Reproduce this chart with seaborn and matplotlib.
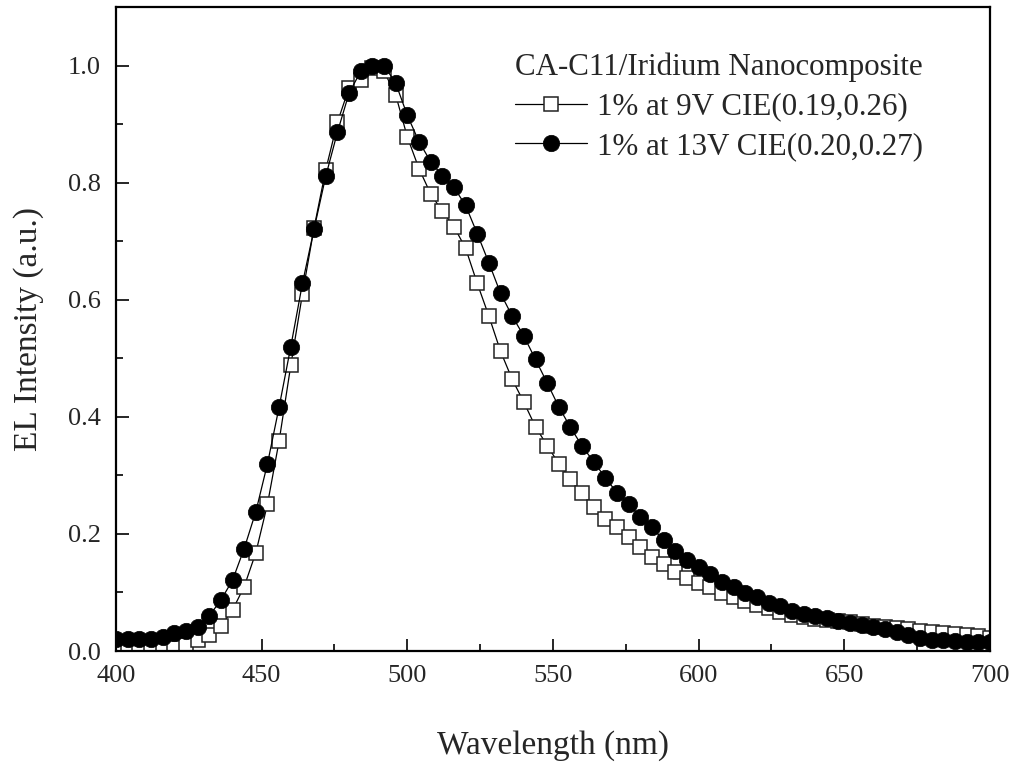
import numpy as np
import pandas as pd
import matplotlib
matplotlib.use("Agg")
import matplotlib.pyplot as plt
from matplotlib.ticker import MultipleLocator, FormatStrFormatter
import seaborn as sns

# Emission wavelength grid (nm), one sample every 4 nm
wavelength = list(range(400, 701, 4))

# Normalised EL spectrum, 1% device driven at 9 V
el_9v = [0.002, 0.002, 0.002, 0.002, 0.003, 0.006, 0.010, 0.019,
         0.027, 0.043, 0.070, 0.110, 0.168, 0.251, 0.359, 0.488,
         0.610, 0.723, 0.822, 0.903, 0.962, 0.976, 0.995, 0.990,
         0.950, 0.878, 0.824, 0.781, 0.751, 0.725, 0.688, 0.628,
         0.572, 0.512, 0.464, 0.425, 0.383, 0.351, 0.320, 0.294,
         0.270, 0.246, 0.226, 0.211, 0.194, 0.178, 0.161, 0.148,
         0.135, 0.124, 0.116, 0.109, 0.099, 0.093, 0.086, 0.078,
         0.073, 0.067, 0.061, 0.058, 0.055, 0.053, 0.051, 0.049,
         0.046, 0.043, 0.041, 0.039, 0.037, 0.035, 0.033, 0.031,
         0.029, 0.027, 0.025, 0.023]

# Normalised EL spectrum, 1% device driven at 13 V
el_13v = [0.020, 0.020, 0.020, 0.020, 0.024, 0.030, 0.035, 0.041,
          0.060, 0.087, 0.121, 0.175, 0.238, 0.320, 0.417, 0.520,
          0.628, 0.721, 0.811, 0.886, 0.953, 0.990, 1.000, 1.000,
          0.970, 0.915, 0.870, 0.836, 0.812, 0.792, 0.761, 0.713,
          0.663, 0.611, 0.572, 0.538, 0.498, 0.458, 0.417, 0.382,
          0.350, 0.323, 0.296, 0.270, 0.251, 0.229, 0.211, 0.189,
          0.171, 0.156, 0.144, 0.131, 0.118, 0.109, 0.099, 0.092,
          0.082, 0.077, 0.069, 0.064, 0.060, 0.056, 0.052, 0.048,
          0.045, 0.041, 0.038, 0.033, 0.027, 0.022, 0.019, 0.018,
          0.017, 0.016, 0.016, 0.015]

legend_title = "CA-C11/Iridium Nanocomposite"
label_9v = "1% at 9V CIE(0.19,0.26)"
label_13v = "1% at 13V CIE(0.20,0.27)"

df = pd.DataFrame({"wavelength": wavelength, "v9": el_9v, "v13": el_13v})

sns.set_style("ticks")
plt.rcParams["font.family"] = ["Liberation Serif", "DejaVu Serif"]
plt.rcParams["xtick.direction"] = "in"
plt.rcParams["ytick.direction"] = "in"

fig = plt.figure(figsize=(10.14, 7.69), dpi=100)
ax = fig.add_axes([0.1144, 0.1534, 0.8619, 0.8375])

sns.lineplot(data=df, x="wavelength", y="v9", ax=ax, color="black",
             linewidth=0.9, marker="s", markersize=10,
             markerfacecolor="white", markeredgecolor="#222222",
             markeredgewidth=1.1, label=label_9v, zorder=2)
sns.lineplot(data=df, x="wavelength", y="v13", ax=ax, color="black",
             linewidth=0.9, marker="o", markersize=11.8,
             markerfacecolor="black", markeredgecolor="black",
             markeredgewidth=0.5, label=label_13v, zorder=3)

ax.set_xlim(400, 700)
ax.set_ylim(0, 1.1)
ax.xaxis.set_major_locator(MultipleLocator(50))
ax.xaxis.set_minor_locator(MultipleLocator(25))
ax.yaxis.set_major_locator(MultipleLocator(0.2))
ax.yaxis.set_minor_locator(MultipleLocator(0.1))
ax.yaxis.set_major_formatter(FormatStrFormatter("%.1f"))

ax.tick_params(which="major", length=9, width=1.4, labelsize=19,
               top=False, right=False)
ax.tick_params(axis="x", which="major", pad=10)
ax.tick_params(axis="y", which="major", pad=11)
ax.tick_params(which="minor", length=5, width=1.4, top=False, right=False)
for side in ["left", "right", "top", "bottom"]:
    ax.spines[side].set_visible(True)
    ax.spines[side].set_linewidth(1.6)
    ax.spines[side].set_color("black")

ax.set_xlabel("Wavelength (nm)", fontsize=24, labelpad=31)
ax.set_ylabel("EL Intensity (a.u.)", fontsize=24, labelpad=17)

leg = ax.legend(title=legend_title, loc="upper left",
                bbox_to_anchor=(0.457, 0.93), frameon=False,
                fontsize=22.3, title_fontsize=22.3, handlelength=2.3,
                handletextpad=0.35, labelspacing=0.33, borderpad=0,
                borderaxespad=0, alignment="left")
leg._legend_box.sep = 8

fig.savefig("out.png", dpi=100)
